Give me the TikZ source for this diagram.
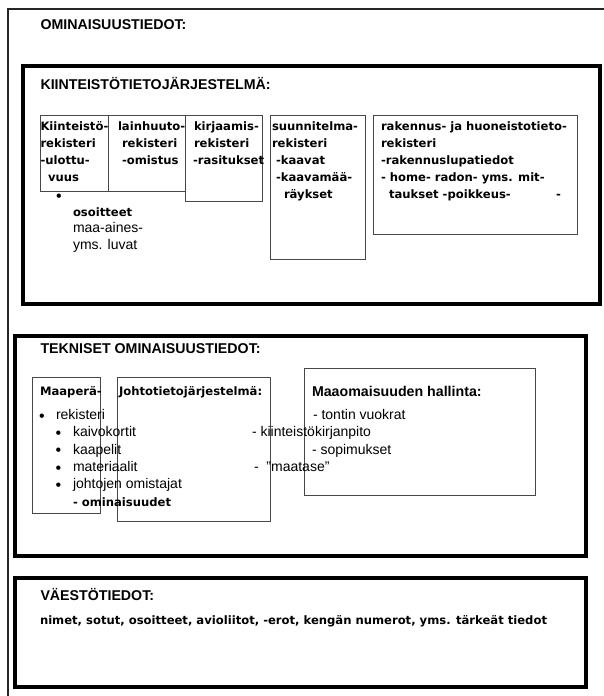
\documentclass[tikz,border=0pt]{standalone}
\usepackage{fontspec}
\setmainfont{Liberation Sans}
\newfontfamily\dvs{DejaVu Sans}
\begin{document}
\begin{tikzpicture}[x=1pt,y=-1pt,
  hdr/.style={inner sep=0pt,outer sep=0pt,anchor=base west,font=\fontsize{14.2}{17}\selectfont\bfseries},
  bx/.style={inner sep=0pt,outer sep=0pt,anchor=base west,font=\dvs\fontsize{11.6}{14}\selectfont\bfseries},
  rg/.style={inner sep=0pt,outer sep=0pt,anchor=base west,font=\fontsize{14}{16}\selectfont},
  bul/.style={inner sep=0pt,outer sep=0pt,anchor=base,font=\fontsize{16}{18}\selectfont},
  bigbox/.style={draw=black,line width=4pt,anchor=north west,inner sep=0pt,outer sep=0pt},
  subbox/.style={draw=black!72,line width=1pt,anchor=north west,inner sep=0pt,outer sep=0pt},
]
\useasboundingbox (0,0) rectangle (604,696);
\fill[white] (0,0) rectangle (604,696);

% outer frame (open to the right and bottom)
\coordinate (fbl) at (8,696);
\coordinate (ftl) at (8,9);
\coordinate (ftr) at (604,9);
\draw[black!85,line width=1.4pt] (fbl) -- (ftl) -- (ftr);
\node[hdr] (tomin) at (40.5,29) {OMINAISUUSTIEDOT:};

% ---- Kiinteistötietojärjestelmä ----
\node[bigbox,minimum width=577pt,minimum height=238pt] (kbox) at (23,66) {};
\node[hdr] (tkiin) at (40.5,89) {KIINTEISTÖTIETOJÄRJESTELMÄ:};

\node[subbox,minimum width=68pt,minimum height=76.5pt] (b1) at (40,115) {};
\node[subbox,minimum width=77.5pt,minimum height=76.5pt] (b2) at (108,115) {};
\node[subbox,minimum width=76.5pt,minimum height=86pt] (b3) at (185.5,115) {};
\node[subbox,minimum width=95pt,minimum height=144pt] (b4) at (270,115) {};
\node[subbox,minimum width=204pt,minimum height=119pt] (b5) at (373,115) {};

\node[bx] (b1a) at (40.5,130) {Kiinteistö-};
\node[bx] (b1b) at (40.5,147) {rekisteri};
\node[bx] (b1c) at (40.5,164) {-ulottu-};
\node[bx] (b1d) at (48,181) {vuus};
\node[bul] (b1e) at (59,201.8) {•};
\node[bx] (b1f) at (73,216.5) {osoitteet};
\node[rg] (b1g) at (73,232.5) {maa-aines-};
\node[rg] (b1h) at (73,249.5) {yms. luvat};

\node[bx] (b2a) at (118,130) {lainhuuto-};
\node[bx] (b2b) at (122,147) {rekisteri};
\node[bx] (b2c) at (122,164) {-omistus};

\node[bx] (b3a) at (194,130) {kirjaamis-};
\node[bx] (b3b) at (194,147) {rekisteri};
\node[bx] (b3c) at (193,164) {-rasitukset};

\node[bx] (b4a) at (272,130) {suunnitelma-};
\node[bx] (b4b) at (272,147) {rekisteri};
\node[bx] (b4c) at (276,164) {-kaavat};
\node[bx] (b4d) at (276,181) {-kaavamää-};
\node[bx] (b4e) at (284,198) {räykset};

\node[bx] (b5a) at (381,130) {rakennus- ja huoneistotieto-};
\node[bx] (b5b) at (381,147) {rekisteri};
\node[bx] (b5c) at (381,164) {-rakennuslupatiedot};
\node[bx] (b5d) at (381,181) {- home- radon- yms. mit-};
\node[bx] (b5e) at (389,198) {taukset -poikkeus-};
\node[bx] (b5f) at (556,198) {-};

% ---- Tekniset ominaisuustiedot ----
\node[bigbox,minimum width=570.5pt,minimum height=220pt] (tbox) at (15,336) {};
\node[hdr] (ttek) at (40.5,353) {TEKNISET OMINAISUUSTIEDOT:};

\node[subbox,minimum width=68pt,minimum height=136pt] (m1) at (32,377) {};
\node[subbox,minimum width=153pt,minimum height=144pt] (m2) at (117,377) {};
\node[subbox,minimum width=231pt,minimum height=127pt] (m3) at (304,368) {};

\node[bx] (m1a) at (40,395) {Maaperä-};
\node[bx] (m2a) at (119,395) {Johtotietojärjestelmä:};
\node[hdr] (m3a) at (312,396.5) {Maaomaisuuden hallinta:};

\node[bul] (l1b) at (42,421.8) {•};
\node[rg] (l1) at (56,419.5) {rekisteri};
\node[bul] (l2b) at (58.3,438.8) {•};
\node[rg] (l2) at (73,436.5) {kaivokortit};
\node[bul] (l3b) at (58.3,455.8) {•};
\node[rg] (l3) at (73,454) {kaapelit};
\node[bul] (l4b) at (58.3,473.8) {•};
\node[rg] (l4) at (73,471.5) {materiaalit};
\node[bul] (l5b) at (58.3,490.8) {•};
\node[rg] (l5) at (73,488.5) {johtojen omistajat};
\node[bx] (l6) at (73,506) {- ominaisuudet};

\node[rg] (r1) at (313,419.5) {- tontin vuokrat};
\node[rg] (r2) at (252,436.5) {- kiinteistökirjanpito};
\node[rg] (r3) at (312,454) {- sopimukset};
\node[rg] (r4) at (254,471.5) {-\ \ ”maatase”};

% ---- Väestötiedot ----
\node[bigbox,minimum width=571pt,minimum height=109pt] (vbox) at (15,578) {};
\node[hdr] (tvae) at (40.5,600) {VÄESTÖTIEDOT:};
\node[bx] (vtxt) at (40,624) {nimet, sotut, osoitteet, avioliitot, -erot, kengän numerot, yms. tärkeät tiedot};
\end{tikzpicture}
\end{document}
